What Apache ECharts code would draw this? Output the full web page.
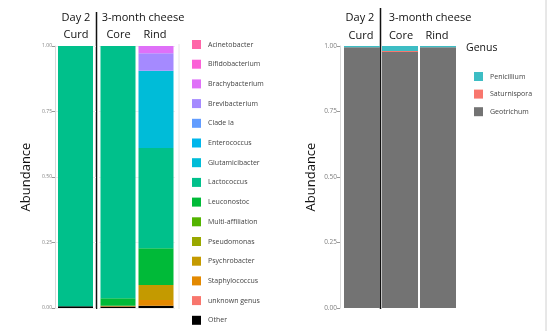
<!DOCTYPE html>
<html>
<head>
<meta charset="utf-8">
<script src="https://cdn.jsdelivr.net/npm/echarts@6/dist/echarts.min.js"></script>
<style>
  html, body { margin: 0; padding: 0; background: #fff; }
  #chart { width: 547px; height: 331px; }
</style>
</head>
<body>
<div id="chart"></div>
<script>
// Bacterial genera: relative abundance per sample (Curd, Core, Rind)
const samples = ['Curd', 'Core', 'Rind'];
const bacteriaGenera = ['Acinetobacter', 'Bifidobacterium', 'Brachybacterium', 'Brevibacterium',
  'Clade Ia', 'Enterococcus', 'Glutamicibacter', 'Lactococcus', 'Leuconostoc',
  'Multi-affiliation', 'Pseudomonas', 'Psychrobacter', 'Staphylococcus', 'unknown genus', 'Other'];
const bacteriaColors = ['#FF66A8', '#FB61D7', '#DF70F8', '#A58AFF', '#619CFF', '#00B6EB',
  '#00BCD8', '#00C08B', '#00BA38', '#53B400', '#99A800', '#C49A00', '#E38900', '#F8766D', '#000000'];
const acinetobacter    = [0, 0, 0];
const bifidobacterium  = [0, 0, 0];
const brachybacterium  = [0, 0, 0.028];
const brevibacterium   = [0, 0, 0.066];
const cladeIa          = [0, 0, 0];
const enterococcus     = [0, 0, 0];
const glutamicibacter  = [0, 0, 0.295];
const lactococcus      = [0.993, 0.963, 0.383];
const leuconostoc      = [0, 0.028, 0.140];
const multiAffiliation = [0, 0, 0];
const pseudomonas      = [0, 0, 0];
const psychrobacter    = [0, 0, 0.057];
const staphylococcus   = [0, 0.003, 0.022];
const unknownGenus     = [0, 0, 0];
const otherBacteria    = [0.007, 0.006, 0.009];
const bacteriaValues = [acinetobacter, bifidobacterium, brachybacterium, brevibacterium, cladeIa,
  enterococcus, glutamicibacter, lactococcus, leuconostoc, multiAffiliation, pseudomonas,
  psychrobacter, staphylococcus, unknownGenus, otherBacteria];

// Fungal genera
const fungiGenera = ['Penicillium', 'Saturnispora', 'Geotrichum'];
const fungiColors = ['#3DBDC4', '#F8766D', '#737373'];
const penicillium  = [0.005, 0.019, 0.005];
const saturnispora = [0, 0.004, 0];
const geotrichum   = [0.995, 0.977, 0.995];
const fungiValues = [penicillium, saturnispora, geotrichum];

const yTicks = [0, 0.25, 0.5, 0.75, 1];

const FONT = '"Open Sans", "DejaVu Sans", sans-serif';
const chart = echarts.init(document.getElementById('chart'));

const gridTop = 46, gridH = 262;

function valueAxis(gridIndex, showLabels, fontSize, opts) {
  return Object.assign({
    type: 'value', gridIndex: gridIndex, min: 0, max: 1, interval: 0.25,
    axisLine: { show: showLabels, lineStyle: { color: '#d9d9d9', width: 1 } },
    axisTick: { show: showLabels, length: 3, lineStyle: { color: '#999' } },
    axisLabel: {
      show: showLabels, fontSize: fontSize, color: '#808080', margin: 3, fontFamily: FONT,
      formatter: v => yTicks.includes(v) ? v.toFixed(2) : ''
    },
    splitLine: { show: false }
  }, opts || {});
}

function catAxis(gridIndex, data) {
  return {
    type: 'category', gridIndex: gridIndex, data: data,
    axisLine: { show: false }, axisTick: { show: false }, axisLabel: { show: false }
  };
}

const series = [];
// stack order: last legend entry sits at the bottom
for (let i = bacteriaGenera.length - 1; i >= 0; i--) {
  const vals = bacteriaValues[i];
  const base = { type: 'bar', name: bacteriaGenera[i], itemStyle: { color: bacteriaColors[i] },
    barWidth: 35, silent: true };
  series.push(Object.assign({}, base, { xAxisIndex: 0, yAxisIndex: 0, stack: 'curd', data: [vals[0]] }));
  series.push(Object.assign({}, base, { xAxisIndex: 1, yAxisIndex: 1, stack: 'cheese', data: [vals[1], vals[2]] }));
}
for (let i = fungiGenera.length - 1; i >= 0; i--) {
  series.push({ type: 'bar', name: fungiGenera[i], itemStyle: { color: fungiColors[i] },
    barWidth: 36, barGap: '0%', xAxisIndex: 2, yAxisIndex: 2, stack: 'fungi', data: fungiValues[i], silent: true });
}

function txt(x, y, text, size, align) {
  return { type: 'text', x: x, y: y, silent: true,
    style: { text: text, fontSize: size, fontFamily: FONT, fill: '#111',
      textAlign: align || 'center', textVerticalAlign: 'middle' } };
}

chart.setOption({
  animation: false,
  grid: [
    { left: 55, width: 41, top: gridTop, height: gridH },
    { left: 99, width: 76, top: gridTop, height: gridH },
    { left: 343, width: 114, top: gridTop, height: gridH }
  ],
  xAxis: [
    catAxis(0, [samples[0]]),
    catAxis(1, [samples[1], samples[2]]),
    catAxis(2, samples)
  ],
  yAxis: [
    valueAxis(0, true, 5, { name: 'Abundance', nameLocation: 'middle', nameRotate: 90, nameGap: 22,
      nameTextStyle: { fontSize: 13, color: '#111', fontFamily: FONT },
      splitLine: { show: true, lineStyle: { color: '#eeeeee' } } }),
    valueAxis(1, false, 5, { splitLine: { show: true, lineStyle: { color: '#eeeeee' } } }),
    valueAxis(2, true, 6.5, { offset: 3, name: 'Abundance', nameLocation: 'middle', nameRotate: 90, nameGap: 22,
      nameTextStyle: { fontSize: 13, color: '#111', fontFamily: FONT } })
  ],
  legend: [
    { data: bacteriaGenera, orient: 'vertical', left: 192, top: 40, padding: 0, height: 300, icon: 'rect',
      itemWidth: 9, itemHeight: 9, itemGap: 10.7, selectedMode: false,
      textStyle: { fontSize: 7, color: '#444', fontFamily: FONT, padding: [0, 0, 0, 2] } },
    { data: fungiGenera, orient: 'vertical', left: 474, top: 72, padding: 0, icon: 'rect',
      itemWidth: 9, itemHeight: 9, itemGap: 8.6, selectedMode: false,
      textStyle: { fontSize: 7, color: '#444', fontFamily: FONT, padding: [0, 0, 0, 2] } }
  ],
  graphic: [
    { type: 'line', silent: true, shape: { x1: 96.5, y1: 12, x2: 96.5, y2: 309 }, style: { stroke: '#111', lineWidth: 1.5 } },
    { type: 'line', silent: true, shape: { x1: 380.5, y1: 8, x2: 380.5, y2: 309 }, style: { stroke: '#111', lineWidth: 1.5 } },
    { type: 'line', silent: true, shape: { x1: 179, y1: 44, x2: 179, y2: 309 }, style: { stroke: '#e6e6e6', lineWidth: 1 } },
    { type: 'line', silent: true, shape: { x1: 546, y1: 0, x2: 546, y2: 331 }, style: { stroke: '#d0d0d0', lineWidth: 1 } },
    txt(76, 18, 'Day 2', 11), txt(76, 35, 'Curd', 11),
    txt(143, 18, '3-month cheese', 11), txt(118.5, 35, 'Core', 11), txt(155, 35, 'Rind', 11),
    txt(360, 18, 'Day 2', 11), txt(361, 36, 'Curd', 11),
    txt(430, 18, '3-month cheese', 11), txt(401, 36, 'Core', 11), txt(437, 36, 'Rind', 11),
    txt(466, 48, 'Genus', 10.5, 'left')
  ],
  series: series
});
</script>
</body>
</html>
